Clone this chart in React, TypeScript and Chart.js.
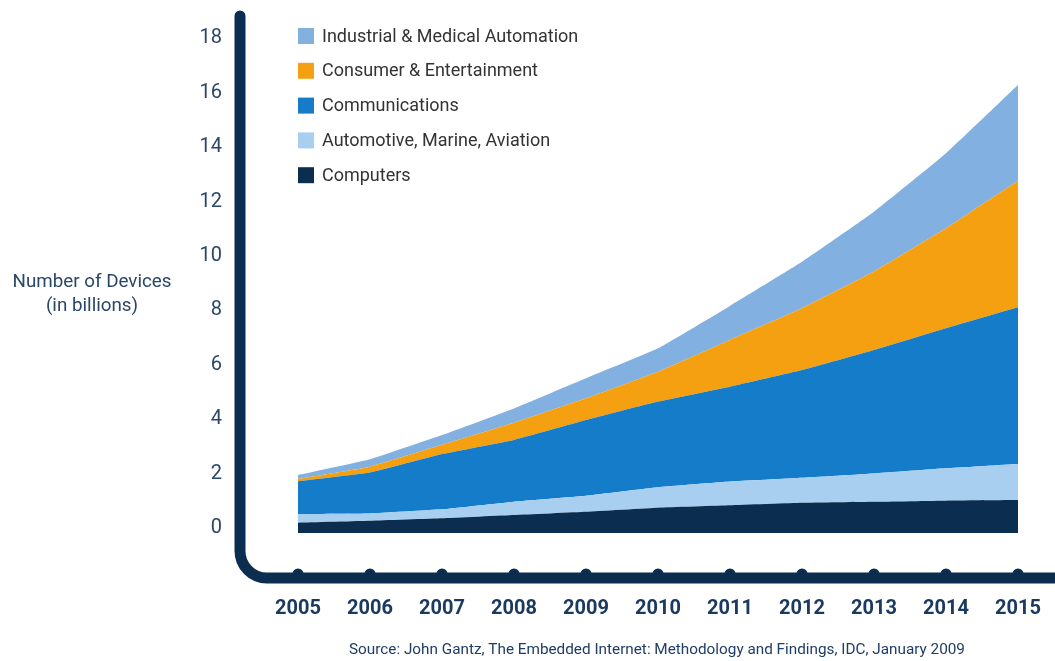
import React, { useEffect, useRef } from "react";
import { Chart, registerables } from "chart.js";

Chart.register(...registerables);

const years = ["2005", "2006", "2007", "2008", "2009", "2010", "2011", "2012", "2013", "2014", "2015"];
const computers = [0.38, 0.45, 0.54, 0.66, 0.78, 0.93, 1.02, 1.11, 1.15, 1.19, 1.21];
const automotive = [0.32, 0.27, 0.33, 0.49, 0.59, 0.75, 0.87, 0.92, 1.04, 1.19, 1.33];
const communications = [1.2, 1.5, 2.03, 2.27, 2.78, 3.15, 3.49, 3.96, 4.54, 5.15, 5.76];
const consumer = [0.09, 0.22, 0.34, 0.63, 0.8, 1.1, 1.72, 2.27, 2.88, 3.67, 4.65];
const industrial = [0.14, 0.27, 0.36, 0.53, 0.74, 0.86, 1.25, 1.71, 2.2, 2.76, 3.52];

const seriesNames = [
  "Computers",
  "Automotive, Marine, Aviation",
  "Communications",
  "Consumer & Entertainment",
  "Industrial & Medical Automation",
];
const seriesColors = ["#0a2d50", "#a8cef0", "#157cc9", "#f5a011", "#82b0e0"];
const yTitleLines = ["Number of Devices", "(in billions)"];
const sourceText = "Source: John Gantz, The Embedded Internet: Methodology and Findings, IDC, January 2009";

const NAVY = "#0b2d4f";
const FONT = "Roboto, 'Noto Sans', sans-serif";

const decorPlugin = {
  id: "decor",
  beforeDatasetsDraw(chart: any) {
    const { ctx, chartArea, scales } = chart;
    const xs = scales.x;
    ctx.save();
    // L-shaped axis
    const ax = chartArea.left - 58;
    const ay = 578;
    const r = 27;
    ctx.strokeStyle = NAVY;
    ctx.lineWidth = 11;
    ctx.lineCap = "round";
    ctx.lineJoin = "round";
    ctx.beginPath();
    ctx.moveTo(ax, 16);
    ctx.lineTo(ax, ay - r);
    ctx.arcTo(ax, ay, ax + r, ay, r);
    ctx.lineTo(chart.width + 20, ay);
    ctx.stroke();
    // dots at each year
    ctx.fillStyle = NAVY;
    years.forEach((_, i) => {
      const px = xs.getPixelForValue(i);
      ctx.beginPath();
      ctx.arc(px, ay - 4, 5.5, 0, Math.PI * 2);
      ctx.fill();
    });
    ctx.restore();
  },
  afterDraw(chart: any) {
    const { ctx, chartArea } = chart;
    ctx.save();
    // legend
    const ds = chart.data.datasets;
    const lx = chartArea.left;
    ctx.font = `18px ${FONT}`;
    ctx.textBaseline = "middle";
    ctx.textAlign = "left";
    for (let k = 0; k < ds.length; k++) {
      const d = ds[ds.length - 1 - k];
      const cy = 36 + k * 34.8;
      ctx.fillStyle = d.backgroundColor;
      ctx.fillRect(lx, cy - 8, 16, 16);
      ctx.fillStyle = "#333333";
      ctx.fillText(d.label, lx + 24, cy + 1);
    }
    // y title
    ctx.fillStyle = "#2a4668";
    ctx.textAlign = "center";
    ctx.font = `18.8px ${FONT}`;
    yTitleLines.forEach((t, i) => ctx.fillText(t, 92, 282 + i * 24));
    // source
    ctx.fillStyle = "#1f3d66";
    ctx.font = `15.3px ${FONT}`;
    ctx.fillText(sourceText, 657, 650);
    ctx.restore();
  },
};

export default function App() {
  const ref = useRef<HTMLCanvasElement>(null);
  useEffect(() => {
    document.body.style.margin = "0";
    const values = [computers, automotive, communications, consumer, industrial];
    const chart = new Chart(ref.current as HTMLCanvasElement, {
      type: "line",
      data: {
        labels: years,
        datasets: values.map((v, i) => ({
          label: seriesNames[i],
          data: v,
          backgroundColor: seriesColors[i],
          borderColor: seriesColors[i],
          borderWidth: 0,
          pointRadius: 0,
          tension: 0.1,
          fill: i === 0 ? "origin" : "-1",
        })),
      },
      options: {
        animation: false,
        responsive: false,
        devicePixelRatio: 1,
        layout: { autoPadding: false, padding: { top: 43.4, left: 188, right: 37, bottom: 0 } },
        plugins: { legend: { display: false }, tooltip: { enabled: false } },
        scales: {
          x: {
            offset: false,
            grid: { display: false, drawTicks: false },
            border: { display: false },
            ticks: {
              padding: 64,
              color: "#1b3a60",
              font: { family: FONT, size: 20, weight: "bold" },
              maxRotation: 0,
              autoSkip: false,
            },
            afterFit: (s: any) => {
              s.height = 128;
              s.paddingLeft = 0;
              s.paddingRight = 0;
            },
          },
          y: {
            stacked: true,
            min: 0,
            max: 18,
            grid: { display: false, drawTicks: false },
            border: { display: false },
            ticks: {
              stepSize: 2,
              padding: 76,
              labelOffset: -5,
              color: "#2a4668",
              font: { family: FONT, size: 20 },
            },
            afterFit: (s: any) => {
              s.width = 110;
              s.paddingTop = 0;
              s.paddingBottom = 0;
            },
          },
        },
      },
      plugins: [decorPlugin],
    });
    return () => chart.destroy();
  }, []);
  return (
    <div style={{ width: 1055, height: 661, position: "relative", background: "#fff" }}>
      <canvas ref={ref} width={1055} height={661} style={{ display: "block" }} />
    </div>
  );
}
